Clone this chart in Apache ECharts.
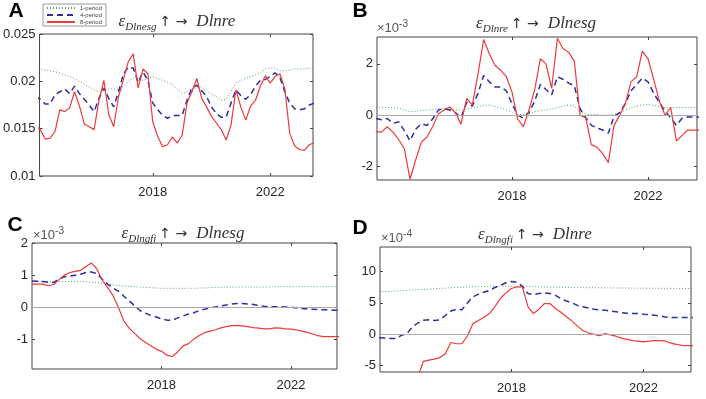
<!DOCTYPE html>
<html>
<head>
<meta charset="utf-8">
<script src="https://cdn.jsdelivr.net/npm/echarts@6/dist/echarts.min.js"></script>
<style>
html, body { margin: 0; background: #fff; }
#c { width: 706px; height: 399px; }
</style>
</head>
<body>
<div id="c"></div>
<script>
// time grid: every two months from 2014
var years = [];
for (var i = 0; i < 58; i++) years.push(2014 + i / 6);

var yearTicks = [2018, 2022];

// A: eps Dlnesg -> Dlnre
var aOne = [0.0213,0.0213,0.0212,0.0211,0.0210,0.0209,0.0207,0.0205,0.0203,0.0200,
  0.0197,0.0194,0.0191,0.0189,0.0190,0.0192,0.0192,0.0191,0.0195,0.0199,
  0.0204,0.0201,0.0201,0.0203,0.0205,0.0203,0.0201,0.0199,0.0196,0.0192,
  0.0187,0.0189,0.0192,0.0193,0.0193,0.0190,0.0186,0.0184,0.0180,0.0181,
  0.0189,0.0198,0.0201,0.0203,0.0205,0.0207,0.0209,0.0213,0.0214,0.0214,
  0.0211,0.0211,0.0212,0.0213,0.0213,0.0213,0.0214,0.0214];
var aFour = [0.0184,0.0181,0.0176,0.0176,0.0186,0.0189,0.0192,0.0187,0.0195,0.0187,
  0.0181,0.0175,0.0168,0.0182,0.0193,0.0182,0.0173,0.0189,0.0208,0.0215,
  0.0214,0.0199,0.0210,0.0201,0.0177,0.0170,0.0164,0.0161,0.0164,0.0164,
  0.0164,0.0180,0.0193,0.0196,0.0190,0.0184,0.0173,0.0166,0.0162,0.0162,
  0.0177,0.0191,0.0185,0.0181,0.0186,0.0195,0.0201,0.0202,0.0205,0.0209,
  0.0204,0.0189,0.0177,0.0171,0.0170,0.0171,0.0175,0.0177];
var aEight = [0.0153,0.0149,0.0139,0.0140,0.0147,0.0170,0.0168,0.0172,0.0189,0.0174,
  0.0155,0.0152,0.0149,0.0180,0.0201,0.0165,0.0152,0.0184,0.0202,0.0221,
  0.0229,0.0193,0.0213,0.0208,0.0157,0.0142,0.0131,0.0133,0.0141,0.0135,
  0.0143,0.0177,0.0189,0.0203,0.0182,0.0173,0.0163,0.0156,0.0149,0.0138,
  0.0154,0.0191,0.0173,0.0159,0.0174,0.0180,0.0195,0.0206,0.0198,0.0205,
  0.0208,0.0192,0.0145,0.0132,0.0128,0.0127,0.0133,0.0135];
var aTicks = [0.01, 0.015, 0.02, 0.025];

// B: eps Dlnre -> Dlnesg (x 1e-3)
var bOne = [0.32,0.31,0.30,0.29,0.27,0.20,0.14,0.15,0.18,0.20,
  0.22,0.25,0.26,0.22,0.20,0.20,0.25,0.28,0.32,0.38,
  0.39,0.34,0.28,0.20,0.12,0.02,0.03,0.08,0.13,0.18,
  0.21,0.25,0.28,0.35,0.40,0.35,0.10,0.05,0.02,0.02,
  0.00,0.00,0.03,0.10,0.20,0.28,0.35,0.40,0.42,0.38,
  0.33,0.30,0.28,0.30,0.30,0.30,0.30,0.30];
var bFour = [-0.13,-0.18,-0.13,-0.32,-0.26,-0.60,-1.00,-0.55,-0.33,-0.40,
  -0.15,0.20,0.25,0.20,0.10,-0.10,0.50,0.35,0.85,1.55,
  1.30,1.10,1.10,0.95,0.45,0.00,-0.12,0.10,0.55,1.20,
  1.00,0.80,1.50,1.40,1.25,1.15,0.25,-0.10,-0.40,-0.50,
  -0.58,-0.70,-0.05,0.10,0.45,0.95,1.20,1.45,1.30,0.85,
  0.50,0.15,-0.10,-0.40,-0.12,-0.07,-0.07,-0.07];
var bEight = [-0.65,-0.65,-0.45,-0.66,-0.95,-1.30,-2.50,-1.75,-1.05,-0.85,
  -0.45,0.05,0.20,0.32,0.10,-0.35,0.65,0.40,1.60,2.95,
  2.40,1.95,1.75,1.50,0.90,-0.15,-0.45,0.20,1.00,2.20,
  2.00,1.05,3.00,2.60,2.45,2.10,0.00,-0.10,-1.15,-1.25,
  -1.50,-1.85,-0.40,0.00,0.45,1.30,1.50,2.50,2.20,1.40,
  0.55,0.00,0.30,-1.00,-0.80,-0.58,-0.58,-0.58];
var bTicks = [-2, 0, 2];

// C: eps Dlngfi -> Dlnesg (x 1e-3)
var cOne = [0.80,0.80,0.80,0.80,0.80,0.80,0.80,0.80,0.80,0.80,
  0.79,0.78,0.77,0.75,0.72,0.70,0.68,0.66,0.65,0.64,
  0.63,0.62,0.61,0.60,0.59,0.59,0.59,0.59,0.59,0.59,
  0.59,0.60,0.60,0.61,0.62,0.62,0.63,0.63,0.63,0.63,
  0.63,0.63,0.63,0.63,0.63,0.64,0.64,0.64,0.64,0.64,
  0.64,0.64,0.64,0.64,0.64,0.64,0.64,0.64];
var cFour = [0.82,0.81,0.80,0.78,0.77,0.88,0.95,0.97,1.00,1.03,
  1.08,1.10,1.05,0.88,0.72,0.60,0.50,0.35,0.20,0.05,
  -0.10,-0.18,-0.25,-0.30,-0.36,-0.40,-0.40,-0.33,-0.27,-0.21,
  -0.17,-0.10,-0.06,-0.02,0.01,0.04,0.07,0.10,0.12,0.12,
  0.10,0.09,0.06,0.03,0.02,0.02,0.02,0.01,0.00,-0.02,
  -0.04,-0.05,-0.06,-0.07,-0.08,-0.08,-0.09,-0.09];
var cEight = [0.72,0.72,0.72,0.67,0.71,0.86,1.00,1.08,1.12,1.15,
  1.27,1.38,1.20,0.85,0.62,0.37,0.00,-0.42,-0.65,-0.81,
  -0.97,-1.09,-1.20,-1.30,-1.37,-1.49,-1.53,-1.39,-1.20,-1.13,
  -0.99,-0.88,-0.79,-0.74,-0.70,-0.64,-0.60,-0.57,-0.57,-0.58,
  -0.60,-0.63,-0.65,-0.67,-0.67,-0.64,-0.65,-0.67,-0.68,-0.70,
  -0.74,-0.78,-0.83,-0.88,-0.91,-0.91,-0.91,-0.91];
var cTicks = [-1, 0, 1, 2];

// D: eps Dlngfi -> Dlnre (x 1e-4)
var dOne = [6.75,6.80,6.85,6.90,6.95,7.00,7.05,7.10,7.15,7.20,
  7.25,7.30,7.35,7.40,7.45,7.50,7.55,7.58,7.60,7.62,
  7.64,7.65,7.66,7.66,7.66,7.65,7.63,7.60,7.58,7.56,
  7.54,7.52,7.50,7.48,7.46,7.45,7.44,7.43,7.42,7.41,
  7.40,7.40,7.39,7.38,7.37,7.36,7.35,7.35,7.34,7.33,
  7.33,7.32,7.32,7.31,7.31,7.30,7.30,7.30];
var dFour = [-0.53,-0.58,-0.65,-0.67,-0.16,0.10,1.17,1.80,2.23,2.30,
  2.20,2.30,3.00,3.70,4.00,3.90,5.00,5.96,6.40,6.70,
  7.00,7.45,7.80,8.20,8.40,8.30,7.66,6.50,6.30,6.50,
  6.60,6.50,6.20,5.70,5.30,5.00,4.60,4.40,4.20,4.00,
  3.90,3.85,3.70,3.60,3.45,3.35,3.30,3.30,3.20,3.14,
  3.03,2.90,2.77,2.66,2.66,2.66,2.66,2.66];
var dEight = [null,null,null,null,null,null,null,-6.8,-4.3,-4.1,
  -3.95,-3.7,-3.1,-1.3,-1.5,-1.5,-0.27,1.7,2.2,2.7,
  3.3,4.4,5.7,6.6,7.3,7.55,7.55,4.4,3.3,4.0,
  4.9,4.9,4.1,3.5,2.8,2.1,1.3,0.6,0.2,0.0,
  -0.2,0.1,-0.1,-0.3,-0.6,-0.8,-1.0,-1.1,-1.2,-1.1,
  -1.0,-1.0,-1.1,-1.4,-1.6,-1.75,-1.8,-1.8];
var dTicks = [-5, 0, 5, 10];

var names = ['1-period', '4-period', '8-period'];

var panels = [
  { vals: [aOne, aFour, aEight], ticks: aTicks, x: [2014.14, 2023.46], y: [0.01, 0.025], zero: false,
    grid: { left: 37, top: 34, width: 276, height: 142 } },
  { vals: [bOne, bFour, bEight], ticks: bTicks, x: [2014.03, 2023.44], y: [-2.53, 3.05], zero: true,
    grid: { left: 377, top: 37, width: 320, height: 143 } },
  { vals: [cOne, cFour, cEight], ticks: cTicks, x: [2014.0, 2023.42], y: [-1.92, 2.0], zero: true,
    grid: { left: 32, top: 243, width: 305, height: 126 } },
  { vals: [dOne, dFour, dEight], ticks: dTicks, x: [2014.02, 2023.44], y: [-6, 13.9], zero: true,
    grid: { left: 380, top: 247, width: 311, height: 125 } }
];

var styles = [
  { color: '#5a9e5a', width: 1, type: [1, 2] },
  { color: '#2e2ea6', width: 1.5, type: [6, 4] },
  { color: '#ee3a3a', width: 1.2, type: 'solid' }
];

var axisColor = '#444';
var labelFont = { color: '#262626', fontSize: 13, fontFamily: 'Liberation Sans' };

function plain(v) { return String(v); }

function xAxisDef(k, p, pos, labels) {
  return {
    type: 'value', gridIndex: k, position: pos, min: p.x[0], max: p.x[1],
    axisLine: { show: false, onZero: false }, splitLine: { show: false },
    axisTick: { show: true, inside: true, length: 3, customValues: yearTicks, lineStyle: { color: axisColor } },
    axisLabel: Object.assign({ show: labels, customValues: yearTicks, margin: 10, formatter: plain }, labelFont)
  };
}

function yAxisDef(k, p, pos, labels) {
  return {
    type: 'value', gridIndex: k, position: pos, min: p.y[0], max: p.y[1],
    axisLine: { show: false, onZero: false }, splitLine: { show: false },
    axisTick: { show: true, inside: true, length: 3, customValues: p.ticks, lineStyle: { color: axisColor } },
    axisLabel: Object.assign({ show: labels, customValues: p.ticks, margin: 4, formatter: plain }, labelFont)
  };
}

var option = {
  animation: false,
  backgroundColor: '#fff',
  grid: [], xAxis: [], yAxis: [], series: [],
  legend: {
    data: names, orient: 'vertical', left: 43, top: 4,
    padding: [1, 4, 1, 3], itemGap: 1, itemWidth: 28, itemHeight: 6,
    borderColor: '#9a9a9a', borderWidth: 1, backgroundColor: '#fff',
    selectedMode: false,
    itemStyle: { opacity: 0 },
    textStyle: { fontSize: 6, color: '#444', fontFamily: 'Liberation Sans' }
  },
  graphic: []
};

panels.forEach(function (p, k) {
  option.grid.push(Object.assign({ show: true, borderColor: axisColor, borderWidth: 1 }, p.grid));
  option.xAxis.push(xAxisDef(k, p, 'bottom', true), xAxisDef(k, p, 'top', false));
  option.yAxis.push(yAxisDef(k, p, 'left', true), yAxisDef(k, p, 'right', false));
  p.vals.forEach(function (vals, s) {
    var data = [];
    vals.forEach(function (v, i) { if (v !== null) data.push([years[i], v]); });
    var ser = {
      name: names[s], type: 'line', xAxisIndex: 2 * k, yAxisIndex: 2 * k,
      data: data, symbol: 'none', showSymbol: false, silent: true,
      lineStyle: styles[s], itemStyle: { color: styles[s].color }
    };
    if (s === 0 && p.zero) {
      ser.markLine = {
        silent: true, symbol: 'none', label: { show: false },
        lineStyle: { color: '#aaa', type: 'solid', width: 1.2 },
        data: [{ yAxis: 0 }]
      };
    }
    option.series.push(ser);
  });
});

// panel letters
var letters = [['A', 16, 11], ['B', 360, 11], ['C', 15, 225], ['D', 360, 228]];
letters.forEach(function (l) {
  option.graphic.push({
    type: 'text', x: l[1], y: l[2], silent: true,
    style: { text: l[0], fontSize: 21, fontWeight: 'bold', fontFamily: 'Liberation Sans', fill: '#000', align: 'center', verticalAlign: 'middle' }
  });
});

// titles
var titleRich = {
  e: { fontFamily: 'Liberation Serif', fontStyle: 'italic', fontSize: 17, lineHeight: 22, fill: '#333' },
  s: { fontFamily: 'Liberation Serif', fontStyle: 'italic', fontSize: 11, lineHeight: 11, verticalAlign: 'bottom', fill: '#333' },
  a: { fontFamily: 'DejaVu Sans', fontSize: 14, lineHeight: 22, fill: '#333', padding: [0, 0, 0, 3] },
  g: { fontSize: 10, width: 9, lineHeight: 22 },
  t: { fontFamily: 'Liberation Serif', fontStyle: 'italic', fontSize: 17, lineHeight: 22, fill: '#333' }
};
var titles = [['Dlnesg', 'Dlnre', 177, 22], ['Dlnre', 'Dlnesg', 536, 24], ['Dlngfi', 'Dlnesg', 183, 234], ['Dlngfi', 'Dlnre', 535, 235]];
titles.forEach(function (t) {
  option.graphic.push({
    type: 'text', x: t[2], y: t[3], silent: true,
    style: { text: '{e|ε}{s|' + t[0] + '}{a|↑ →}{g| }{t|' + t[1] + '}', rich: titleRich, align: 'center', verticalAlign: 'middle' }
  });
});

// exponent labels
var expRich = {
  m: { fontFamily: 'Liberation Sans', fontSize: 13, lineHeight: 18, fill: '#555' },
  p: { fontFamily: 'Liberation Sans', fontSize: 10, lineHeight: 10, verticalAlign: 'top', fill: '#555' }
};
var exps = [['-3', 377, 28], ['-3', 33, 235], ['-4', 381, 238]];
exps.forEach(function (e) {
  option.graphic.push({
    type: 'text', x: e[1], y: e[2], silent: true,
    style: { text: '{m|×10}{p|' + e[0] + '}', rich: expRich, align: 'left', verticalAlign: 'middle' }
  });
});

var chart = echarts.init(document.getElementById('c'));
chart.setOption(option);
window.addEventListener('resize', function () { chart.resize(); });
</script>
</body>
</html>
